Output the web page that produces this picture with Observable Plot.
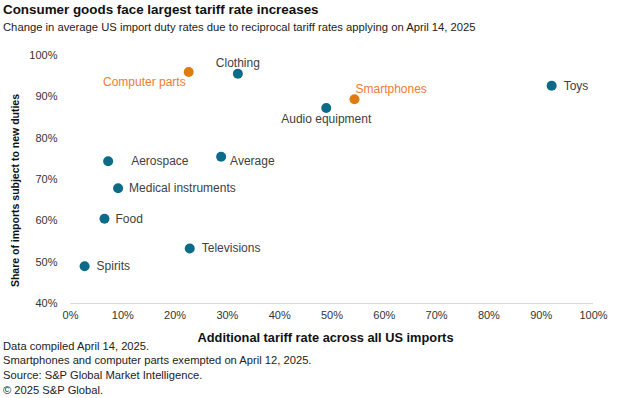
<!DOCTYPE html>
<html><head><meta charset="utf-8">
<script src="https://cdn.jsdelivr.net/npm/d3@7"></script>
<script src="https://cdn.jsdelivr.net/npm/@observablehq/plot@0.6"></script>
<style>
body{margin:0;background:#fff;font-family:"Liberation Sans",Arial,sans-serif;}
#wrap{position:relative;width:624px;height:398px;overflow:hidden;background:#fff;}
.t{position:absolute;left:3px;white-space:nowrap;line-height:1;}
#title{top:2.5px;font-size:13.4px;font-weight:bold;color:#111;}
#sub{top:22px;font-size:11.25px;color:#222;}
#chart{position:absolute;left:0;top:40px;}
#notes{position:absolute;left:3px;top:338.5px;font-size:11.2px;line-height:14.8px;color:#222;white-space:nowrap;}
</style></head><body>
<div id="wrap">
<div class="t" id="title">Consumer goods face largest tariff rate increases</div>
<div class="t" id="sub">Change in average US import duty rates due to reciprocal tariff rates applying on April 14, 2025</div>
<div id="chart"></div>
<div id="notes">Data compiled April 14, 2025.<br>Smartphones and computer parts exempted on April 12, 2025.<br>Source: S&amp;P Global Market Intelligence.<br>© 2025 S&amp;P Global.</div>
</div>
<script>
const categories = ["Spirits","Food","Aerospace","Medical instruments","Televisions","Computer parts","Average","Clothing","Audio equipment","Smartphones","Toys"];
const tariffRate = [0.027,0.065,0.072,0.091,0.228,0.226,0.288,0.32,0.489,0.543,0.92];
const shareSubject = [0.49,0.605,0.744,0.679,0.533,0.96,0.755,0.956,0.873,0.894,0.927];
const exemptedItems = ["Computer parts","Smartphones"];
const xTicks = [0,0.1,0.2,0.3,0.4,0.5,0.6,0.7,0.8,0.9,1];
const yTicks = [0.4,0.5,0.6,0.7,0.8,0.9,1];
const xTitle = "Additional tariff rate across all US imports";
const yTitle = "Share of imports subject to new duties";

const data = categories.map((c,i)=>({name:c,x:tariffRate[i],y:shareSubject[i],exempt:exemptedItems.includes(c)}));

// label placement (presentation only)
const place = {
  "Spirits":{dx:12,dy:0,a:"start"},
  "Food":{dx:11,dy:0,a:"start"},
  "Aerospace":{dx:23,dy:0,a:"start"},
  "Medical instruments":{dx:11,dy:0,a:"start"},
  "Televisions":{dx:12,dy:0,a:"start"},
  "Computer parts":{dx:-3,dy:10,a:"end"},
  "Average":{dx:9,dy:4,a:"start"},
  "Clothing":{dx:0,dy:-10.5,a:"middle"},
  "Audio equipment":{dx:0,dy:11.5,a:"middle"},
  "Smartphones":{dx:1,dy:-10,a:"start"},
  "Toys":{dx:12,dy:0,a:"start"}
};
const TEAL="#0b6b88", ORANGE_DOT="#e07b12", ORANGE_TXT="#f07c35", GRAY="#404040";

const labelMarks = data.map(d=>{
  const p = place[d.name];
  return Plot.text([d],{x:"x",y:"y",text:"name",dx:p.dx,dy:p.dy,textAnchor:p.a,
    fill:d.exempt?ORANGE_TXT:GRAY,fontSize:12});
});

const pct = d3.format(".0%");
const chart = Plot.plot({
  width:624,height:310,
  marginLeft:70,marginRight:31,marginTop:15,marginBottom:47,
  style:{fontFamily:"'Liberation Sans',Arial,sans-serif",fontSize:"11px",color:"#333",background:"transparent"},
  x:{domain:[0,1]},
  y:{domain:[0.4,1]},
  marks:[
    Plot.ruleY([0.4],{stroke:"#d9d9d9",strokeWidth:1}),
    Plot.axisX({ticks:xTicks,tickFormat:pct,tickSize:0,tickPadding:8,label:null,fontSize:11,fill:"#333"}),
    Plot.axisY({ticks:yTicks,tickFormat:pct,tickSize:0,tickPadding:13,label:null,fontSize:11,fill:"#333"}),
    Plot.dot(data,{x:"x",y:"y",r:5,fill:d=>d.exempt?ORANGE_DOT:TEAL,stroke:"none"}),
    ...labelMarks,
    Plot.text([xTitle],{frameAnchor:"bottom",dy:34,dx:-6.5,textAnchor:"middle",lineAnchor:"middle",fontWeight:"bold",fontSize:12.8,fill:"#111"}),
    Plot.text([yTitle],{frameAnchor:"left",rotate:-90,dx:-55,dy:11,textAnchor:"middle",lineAnchor:"middle",fontWeight:"bold",fontSize:10.5,fill:"#111"})
  ]
});
document.getElementById("chart").appendChild(chart);
</script>
</body></html>
